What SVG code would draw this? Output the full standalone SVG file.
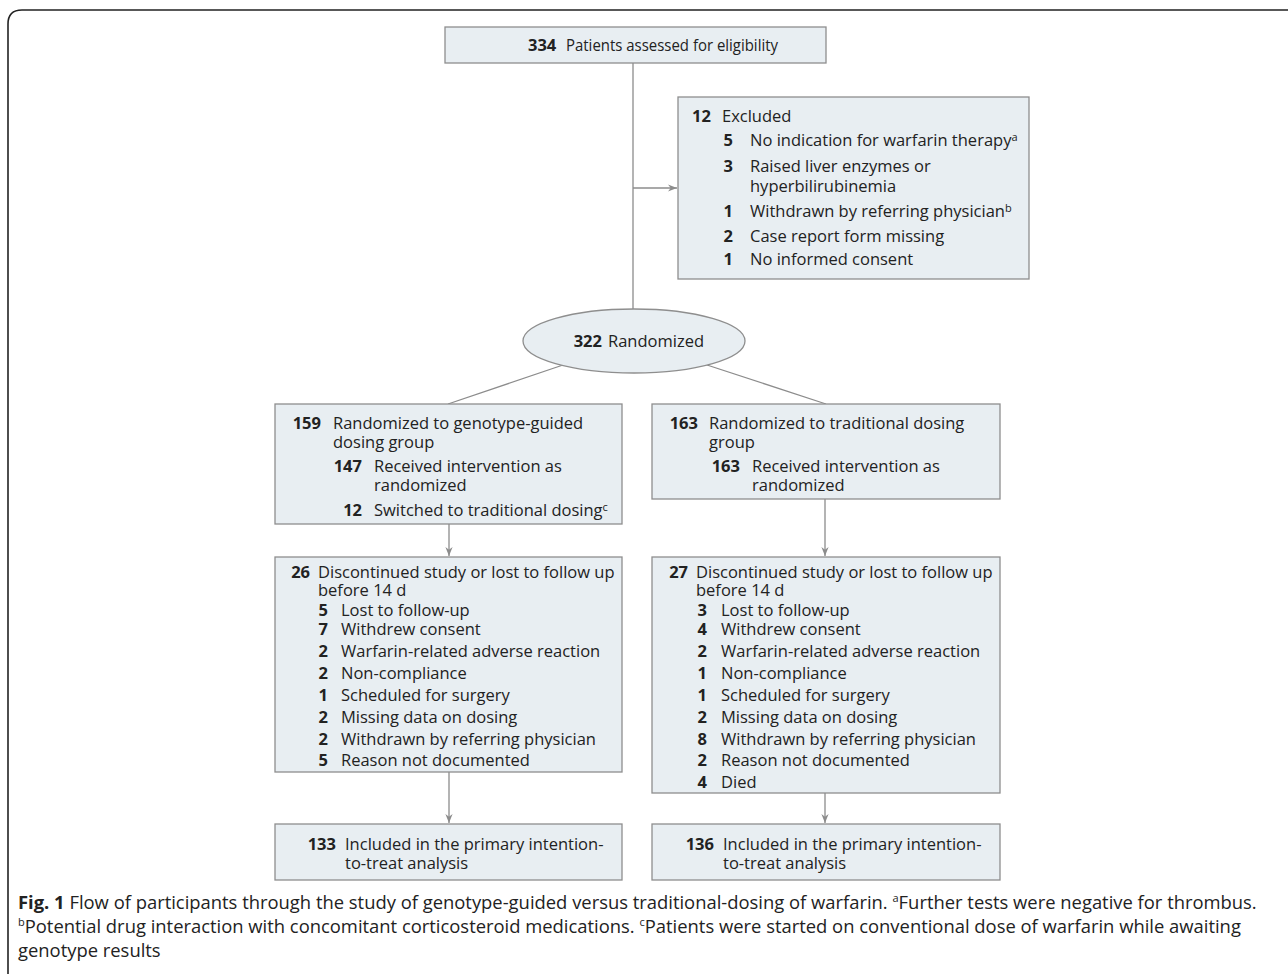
<svg xmlns="http://www.w3.org/2000/svg" width="1288" height="974" viewBox="0 0 1288 974">
<defs>
<marker id="ah" viewBox="0 0 10 10" refX="10" refY="5" markerWidth="9" markerHeight="9" markerUnits="userSpaceOnUse" orient="auto">
<path d="M0,1 L10,5 L0,9 L3,5 z" fill="#8c8c8c"/>
</marker>
<style>
.box{fill:#e8eef2;stroke:#8e8e8e;stroke-width:1.3}
.t{font-family:"Open Sans","Noto Sans","DejaVu Sans",sans-serif;font-size:16.5px;fill:#222}
.b{font-weight:bold}
.c{fill:none;stroke:#8c8c8c;stroke-width:1.3}
.cap{font-family:"Open Sans","Noto Sans","DejaVu Sans",sans-serif;font-size:18.4px;fill:#222}
.sup{font-size:11px}
</style>
</defs>
<rect width="1288" height="974" fill="#ffffff"/>
<path d="M8,974 L8,24 Q8,10 22,10 L1288,10" fill="none" stroke="#222" stroke-width="1.6"/>

<g id="connectors">
<line class="c" x1="633" y1="63" x2="633" y2="310"/>
<line class="c" x1="633" y1="188" x2="677" y2="188" marker-end="url(#ah)"/>
<line class="c" x1="563" y1="365" x2="448" y2="404"/>
<line class="c" x1="707" y1="365" x2="826" y2="404"/>
<line class="c" x1="449" y1="524" x2="449" y2="556" marker-end="url(#ah)"/>
<line class="c" x1="825" y1="499" x2="825" y2="556" marker-end="url(#ah)"/>
<line class="c" x1="449" y1="772" x2="449" y2="823" marker-end="url(#ah)"/>
<line class="c" x1="825" y1="793" x2="825" y2="823" marker-end="url(#ah)"/>
</g>

<g id="assessed">
<rect class="box" x="445" y="27" width="381" height="36"/>
<text class="t b" x="528" y="51">334</text>
<text class="t" x="566" y="51" textLength="212" lengthAdjust="spacingAndGlyphs">Patients assessed for eligibility</text>
</g>

<g id="excluded">
<rect class="box" x="678" y="97" width="351" height="182"/>
<text class="t b" x="692" y="122">12</text>
<text class="t" x="722" y="122">Excluded</text>
<text class="t b" x="733" y="146" text-anchor="end">5</text>
<text class="t" x="750" y="146">No indication for warfarin therapy<tspan class="sup" dy="-5">a</tspan></text>
<text class="t b" x="733" y="172" text-anchor="end">3</text>
<text class="t" x="750" y="172">Raised liver enzymes or</text>
<text class="t" x="750" y="192">hyperbilirubinemia</text>
<text class="t b" x="733" y="217" text-anchor="end">1</text>
<text class="t" x="750" y="217">Withdrawn by referring physician<tspan class="sup" dy="-5">b</tspan></text>
<text class="t b" x="733" y="242" text-anchor="end">2</text>
<text class="t" x="750" y="242">Case report form missing</text>
<text class="t b" x="733" y="265" text-anchor="end">1</text>
<text class="t" x="750" y="265">No informed consent</text>
</g>

<g id="randomized">
<ellipse cx="634" cy="341" rx="111" ry="32" fill="#e8eef2" stroke="#8e8e8e" stroke-width="1.3"/>
<text class="t b" x="602" y="347" text-anchor="end">322</text>
<text class="t" x="608" y="347">Randomized</text>
</g>

<g id="genotype-group">
<rect class="box" x="275" y="404" width="347" height="120"/>
<text class="t b" x="321" y="429" text-anchor="end">159</text>
<text class="t" x="333" y="429">Randomized to genotype-guided</text>
<text class="t" x="333" y="448">dosing group</text>
<text class="t b" x="362" y="472" text-anchor="end">147</text>
<text class="t" x="374" y="472">Received intervention as</text>
<text class="t" x="374" y="491">randomized</text>
<text class="t b" x="362" y="516" text-anchor="end">12</text>
<text class="t" x="374" y="516">Switched to traditional dosing<tspan class="sup" dy="-5">c</tspan></text>
</g>

<g id="traditional-group">
<rect class="box" x="652" y="404" width="348" height="95"/>
<text class="t b" x="698" y="429" text-anchor="end">163</text>
<text class="t" x="709" y="429">Randomized to traditional dosing</text>
<text class="t" x="709" y="448">group</text>
<text class="t b" x="740" y="472" text-anchor="end">163</text>
<text class="t" x="752" y="472">Received intervention as</text>
<text class="t" x="752" y="491">randomized</text>
</g>

<g id="genotype-discontinued">
<rect class="box" x="275" y="557" width="347" height="215"/>
<text class="t b" x="310" y="578" text-anchor="end">26</text>
<text class="t" x="318" y="578">Discontinued study or lost to follow up</text>
<text class="t" x="318" y="596">before 14 d</text>
<text class="t b" x="328" y="616" text-anchor="end">5</text><text class="t" x="341" y="616">Lost to follow-up</text>
<text class="t b" x="328" y="635" text-anchor="end">7</text><text class="t" x="341" y="635">Withdrew consent</text>
<text class="t b" x="328" y="657" text-anchor="end">2</text><text class="t" x="341" y="657">Warfarin-related adverse reaction</text>
<text class="t b" x="328" y="679" text-anchor="end">2</text><text class="t" x="341" y="679">Non-compliance</text>
<text class="t b" x="328" y="701" text-anchor="end">1</text><text class="t" x="341" y="701">Scheduled for surgery</text>
<text class="t b" x="328" y="723" text-anchor="end">2</text><text class="t" x="341" y="723">Missing data on dosing</text>
<text class="t b" x="328" y="745" text-anchor="end">2</text><text class="t" x="341" y="745">Withdrawn by referring physician</text>
<text class="t b" x="328" y="766" text-anchor="end">5</text><text class="t" x="341" y="766">Reason not documented</text>
</g>

<g id="traditional-discontinued">
<rect class="box" x="652" y="557" width="348" height="236"/>
<text class="t b" x="688" y="578" text-anchor="end">27</text>
<text class="t" x="696" y="578">Discontinued study or lost to follow up</text>
<text class="t" x="696" y="596">before 14 d</text>
<text class="t b" x="707" y="616" text-anchor="end">3</text><text class="t" x="721" y="616">Lost to follow-up</text>
<text class="t b" x="707" y="635" text-anchor="end">4</text><text class="t" x="721" y="635">Withdrew consent</text>
<text class="t b" x="707" y="657" text-anchor="end">2</text><text class="t" x="721" y="657">Warfarin-related adverse reaction</text>
<text class="t b" x="707" y="679" text-anchor="end">1</text><text class="t" x="721" y="679">Non-compliance</text>
<text class="t b" x="707" y="701" text-anchor="end">1</text><text class="t" x="721" y="701">Scheduled for surgery</text>
<text class="t b" x="707" y="723" text-anchor="end">2</text><text class="t" x="721" y="723">Missing data on dosing</text>
<text class="t b" x="707" y="745" text-anchor="end">8</text><text class="t" x="721" y="745">Withdrawn by referring physician</text>
<text class="t b" x="707" y="766" text-anchor="end">2</text><text class="t" x="721" y="766">Reason not documented</text>
<text class="t b" x="707" y="788" text-anchor="end">4</text><text class="t" x="721" y="788">Died</text>
</g>

<g id="genotype-itt">
<rect class="box" x="275" y="824" width="347" height="56"/>
<text class="t b" x="336" y="850" text-anchor="end">133</text>
<text class="t" x="345" y="850">Included in the primary intention-</text>
<text class="t" x="345" y="869">to-treat analysis</text>
</g>

<g id="traditional-itt">
<rect class="box" x="652" y="824" width="348" height="56"/>
<text class="t b" x="714" y="850" text-anchor="end">136</text>
<text class="t" x="723" y="850">Included in the primary intention-</text>
<text class="t" x="723" y="869">to-treat analysis</text>
</g>

<g id="caption">
<text class="cap" x="18" y="909"><tspan font-weight="bold">Fig. 1</tspan> Flow of participants through the study of genotype-guided versus traditional-dosing of warfarin. <tspan class="sup" dy="-7">a</tspan><tspan dy="7">Further tests were negative for thrombus.</tspan></text>
<text class="cap" x="18" y="933"><tspan class="sup" dy="-7">b</tspan><tspan dy="7">Potential drug interaction with concomitant corticosteroid medications. </tspan><tspan class="sup" dy="-7">c</tspan><tspan dy="7">Patients were started on conventional dose of warfarin while awaiting</tspan></text>
<text class="cap" x="18" y="957">genotype results</text>
</g>
</svg>
